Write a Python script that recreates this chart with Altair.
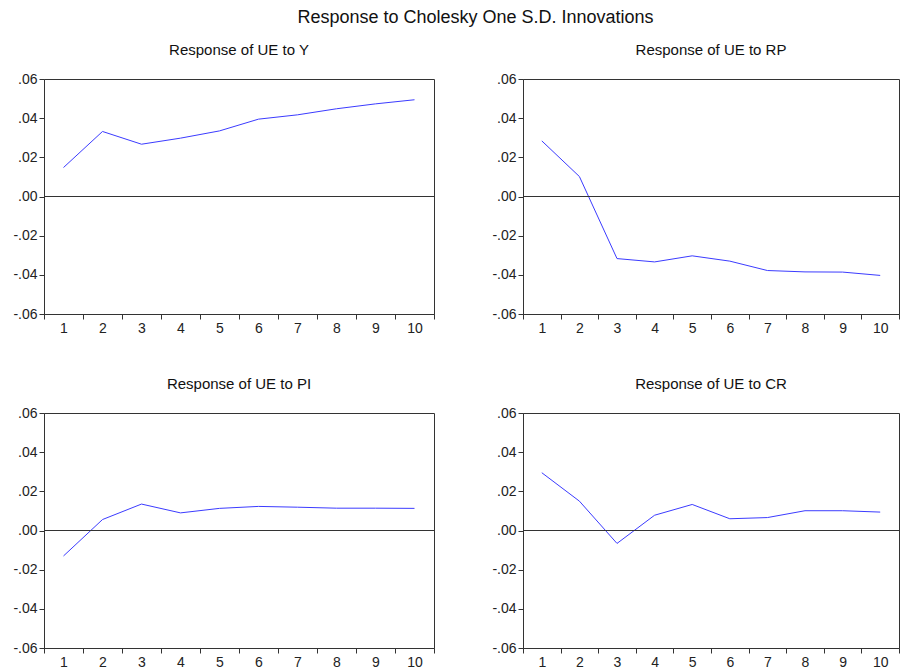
import altair as alt
import pandas as pd

periods = list(range(1, 11))
ue_to_y = [0.0148, 0.0332, 0.0267, 0.0298, 0.0335, 0.0395, 0.0417, 0.0448, 0.0473, 0.0494]
ue_to_rp = [0.0284, 0.0102, -0.0317, -0.0334, -0.0303, -0.0330, -0.0378, -0.0385, -0.0386, -0.0403]
ue_to_pi = [-0.0130, 0.0056, 0.0135, 0.0090, 0.0113, 0.0123, 0.0119, 0.0114, 0.0114, 0.0113]
ue_to_cr = [0.0295, 0.0150, -0.0066, 0.0078, 0.0133, 0.0060, 0.0066, 0.0101, 0.0101, 0.0094]
panel_titles = ["Response of UE to Y", "Response of UE to RP",
                "Response of UE to PI", "Response of UE to CR"]
y_ticks = [-0.06, -0.04, -0.02, 0.0, 0.02, 0.04, 0.06]
main_title = "Response to Cholesky One S.D. Innovations"

FONT = "Liberation Sans"

y_axis = alt.Axis(
    values=y_ticks, title=None, tickSize=5, labelPadding=2,
    labelOverlap=False, tickCount=7,
    labelExpr="(datum.value < -0.0001 ? '-' : '') + '.' + format(round(abs(datum.value) * 100), '02d')",
)
y_scale = alt.Scale(domain=[-0.06, 0.06], nice=False, zero=False)


def panel(values, title, width):
    df = pd.DataFrame({"period": periods, "response": values, "zero": [0.0] * len(periods)})
    x = alt.X(
        "period:O",
        bandPosition=0.5,
        scale=alt.Scale(type="band", paddingInner=0, paddingOuter=0),
        axis=alt.Axis(tickBand="extent", labelAngle=0, title=None,
                      tickSize=5, labelPadding=2, labelOverlap=False),
    )
    line = alt.Chart(df).mark_line(color="#3b3bff", strokeWidth=1).encode(
        x=x, y=alt.Y("response:Q", scale=y_scale, axis=y_axis)
    )
    zero = alt.Chart(df).mark_rule(color="#333333", strokeWidth=1).encode(
        y=alt.Y("zero:Q", scale=y_scale, axis=y_axis)
    )
    return alt.layer(line, zero).properties(
        width=width, height=235,
        title=alt.TitleParams(title, frame="group", anchor="middle", offset=14,
                              fontSize=15, font=FONT, fontWeight="normal", color="#111111"),
    )


p1 = panel(ue_to_y, panel_titles[0], 390)
p2 = panel(ue_to_rp, panel_titles[1], 376)
p3 = panel(ue_to_pi, panel_titles[2], 390)
p4 = panel(ue_to_cr, panel_titles[3], 376)

top = alt.hconcat(p1, p2, spacing=56)
bottom = alt.hconcat(p3, p4, spacing=56)

chart = alt.vconcat(top, bottom, spacing=40).properties(
    title=alt.TitleParams(main_title, anchor="start", dx=285, fontSize=18,
                          font=FONT, fontWeight="normal", color="#111111", offset=16),
    padding={"left": 4, "top": 0, "right": 0, "bottom": 0},
).configure_view(
    stroke="#333333", strokeWidth=1
).configure_axis(
    grid=False, domainColor="#333333", tickColor="#333333",
    labelFont=FONT, labelFontSize=14, labelColor="#222222",
)

chart.save("out.html", embed_options={"renderer": "svg", "actions": False})
